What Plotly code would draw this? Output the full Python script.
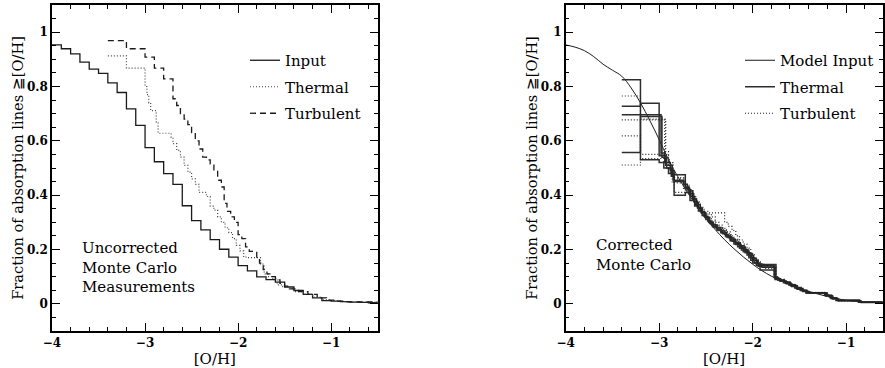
import plotly.graph_objects as go

# ---------------- Left panel: uncorrected Monte Carlo ----------------
input_x = [-4.0, -3.9, -3.8, -3.7, -3.6, -3.5, -3.4, -3.3, -3.2, -3.1,
           -3.0, -2.9, -2.8, -2.7, -2.6, -2.5, -2.4, -2.3, -2.2, -2.1,
           -2.0, -1.9, -1.8, -1.7, -1.6, -1.5, -1.4, -1.3, -1.2, -1.1,
           -1.0, -0.9, -0.8, -0.7, -0.6, -0.5]
input_y = [0.953, 0.939, 0.920, 0.890, 0.864, 0.848, 0.813, 0.778, 0.718, 0.657,
           0.575, 0.523, 0.479, 0.440, 0.361, 0.306, 0.272, 0.236, 0.201, 0.172,
           0.141, 0.121, 0.099, 0.089, 0.080, 0.062, 0.049, 0.035, 0.022, 0.012,
           0.010, 0.008, 0.006, 0.005, 0.004, 0.004]

thermal_x = [-3.4, -3.2, -3.0, -2.98, -2.96, -2.94, -2.88, -2.86, -2.72, -2.70,
             -2.66, -2.62, -2.58, -2.54, -2.50, -2.46, -2.42, -2.34, -2.30, -2.26,
             -2.22, -2.18, -2.14, -2.10, -2.06, -2.02, -1.98, -1.94, -1.90, -1.76,
             -1.72, -1.68, -1.64, -1.58, -1.52, -1.46, -1.40, -1.30, -1.20, -1.10,
             -1.00, -0.90, -0.80, -0.50]
thermal_y = [0.913, 0.868, 0.800, 0.770, 0.740, 0.711, 0.670, 0.628, 0.614, 0.590,
             0.565, 0.540, 0.510, 0.485, 0.460, 0.440, 0.410, 0.395, 0.360, 0.345,
             0.320, 0.300, 0.280, 0.262, 0.240, 0.215, 0.195, 0.172, 0.170, 0.146,
             0.110, 0.100, 0.094, 0.070, 0.063, 0.055, 0.045, 0.036, 0.025, 0.015,
             0.011, 0.008, 0.006, 0.006]

turb_x = [-3.4, -3.2, -3.0, -2.9, -2.8, -2.7, -2.66, -2.62, -2.58, -2.54,
          -2.50, -2.46, -2.42, -2.38, -2.34, -2.30, -2.26, -2.22, -2.18, -2.15,
          -2.12, -2.08, -2.04, -2.00, -1.96, -1.92, -1.88, -1.80, -1.77, -1.73,
          -1.69, -1.65, -1.60, -1.55, -1.50, -1.45, -1.35, -1.25, -1.15, -1.05,
          -0.95, -0.85, -0.50]
turb_y = [0.969, 0.939, 0.908, 0.868, 0.828, 0.755, 0.730, 0.700, 0.680, 0.660,
          0.630, 0.600, 0.570, 0.540, 0.530, 0.515, 0.490, 0.455, 0.430, 0.370,
          0.340, 0.320, 0.300, 0.255, 0.240, 0.210, 0.193, 0.163, 0.150, 0.126,
          0.110, 0.100, 0.088, 0.075, 0.065, 0.055, 0.045, 0.035, 0.022, 0.014,
          0.010, 0.007, 0.007]

# ---------------- Right panel: corrected Monte Carlo ----------------
model_x = [-4.0, -3.9, -3.8, -3.7, -3.6, -3.5, -3.4, -3.3, -3.2, -3.1,
           -3.0, -2.9, -2.8, -2.7, -2.6, -2.5, -2.4, -2.3, -2.2, -2.1,
           -2.0, -1.9, -1.8, -1.7, -1.6, -1.5, -1.4, -1.3, -1.2, -1.1,
           -1.0, -0.9, -0.8, -0.7, -0.6]
model_y = [0.953, 0.945, 0.932, 0.910, 0.882, 0.860, 0.838, 0.795, 0.740, 0.675,
           0.605, 0.530, 0.468, 0.412, 0.360, 0.314, 0.273, 0.236, 0.203, 0.173,
           0.146, 0.122, 0.102, 0.085, 0.070, 0.057, 0.046, 0.036, 0.027, 0.019,
           0.013, 0.009, 0.006, 0.005, 0.004]

thA_x = [-3.4, -3.2, -3.0, -2.95, -2.9, -2.85, -2.74, -2.70, -2.66, -2.62,
         -2.58, -2.54, -2.50, -2.46, -2.42, -2.38, -2.34, -2.30, -2.26, -2.22,
         -2.18, -2.14, -2.10, -2.06, -2.02, -1.98, -1.94, -1.90, -1.76, -1.72,
         -1.66, -1.60, -1.54, -1.48, -1.42, -1.22, -1.16, -1.10, -0.86, -0.60]
thA_y = [0.825, 0.530, 0.520, 0.500, 0.480, 0.455, 0.440, 0.420, 0.395, 0.372,
         0.352, 0.335, 0.318, 0.300, 0.290, 0.280, 0.268, 0.255, 0.243, 0.230,
         0.218, 0.205, 0.192, 0.180, 0.160, 0.150, 0.138, 0.135, 0.095, 0.088,
         0.080, 0.070, 0.060, 0.050, 0.040, 0.030, 0.020, 0.012, 0.006, 0.006]

thB_x = [-3.4, -3.2, -3.0, -2.93, -2.86, -2.72, -2.68, -2.64, -2.60, -2.56,
         -2.52, -2.48, -2.44, -2.40, -2.36, -2.32, -2.28, -2.24, -2.20, -2.16,
         -2.12, -2.08, -2.04, -2.00, -1.96, -1.92, -1.76, -1.70, -1.64, -1.58,
         -1.52, -1.46, -1.40, -1.20, -1.14, -1.08, -0.84, -0.60]
thB_y = [0.727, 0.738, 0.545, 0.510, 0.475, 0.430, 0.415, 0.385, 0.365, 0.340,
         0.322, 0.305, 0.292, 0.280, 0.270, 0.258, 0.246, 0.232, 0.220, 0.210,
         0.198, 0.188, 0.170, 0.150, 0.142, 0.125, 0.090, 0.083, 0.074, 0.064,
         0.054, 0.045, 0.040, 0.028, 0.018, 0.011, 0.005, 0.005]

thC_x = [-3.4, -2.98, -2.94, -2.88, -2.84, -2.72, -2.68, -2.63, -2.59, -2.55,
         -2.51, -2.47, -2.43, -2.38, -2.33, -2.28, -2.23, -2.18, -2.13, -2.08,
         -2.04, -1.99, -1.94, -1.75, -1.71, -1.65, -1.59, -1.53, -1.47, -1.42,
         -1.23, -1.17, -1.10, -0.86, -0.60]
thC_y = [0.696, 0.555, 0.520, 0.490, 0.450, 0.425, 0.405, 0.378, 0.355, 0.336,
         0.318, 0.300, 0.285, 0.272, 0.262, 0.248, 0.236, 0.222, 0.208, 0.196,
         0.178, 0.160, 0.145, 0.092, 0.084, 0.076, 0.066, 0.056, 0.048, 0.041,
         0.032, 0.022, 0.013, 0.006, 0.006]

thD_x = [-3.4, -3.2, -2.97, -2.92, -2.87, -2.84, -2.72, -2.67, -2.62, -2.58,
         -2.54, -2.50, -2.46, -2.42, -2.38, -2.34, -2.29, -2.24, -2.19, -2.14,
         -2.09, -2.05, -2.01, -1.96, -1.92, -1.77, -1.73, -1.67, -1.61, -1.55,
         -1.49, -1.43, -1.21, -1.15, -1.09, -0.85, -0.60]
thD_y = [0.557, 0.690, 0.540, 0.500, 0.470, 0.400, 0.410, 0.380, 0.360, 0.342,
         0.325, 0.310, 0.296, 0.283, 0.272, 0.262, 0.250, 0.238, 0.226, 0.214,
         0.200, 0.186, 0.168, 0.150, 0.140, 0.097, 0.087, 0.078, 0.068, 0.058,
         0.049, 0.040, 0.030, 0.020, 0.012, 0.006, 0.006]

tuA_x = [-3.4, -3.2, -2.93, -2.90, -2.85, -2.72, -2.68, -2.64, -2.60, -2.56,
         -2.52, -2.46, -2.30, -2.26, -2.22, -2.18, -2.14, -2.10, -2.06, -2.02,
         -1.98, -1.94, -1.77, -1.72, -1.66, -1.60, -1.54, -1.48, -1.42, -1.22,
         -1.16, -1.10, -0.86, -0.60]
tuA_y = [0.765, 0.680, 0.560, 0.520, 0.460, 0.440, 0.420, 0.395, 0.375, 0.355,
         0.340, 0.335, 0.300, 0.285, 0.270, 0.250, 0.235, 0.220, 0.205, 0.185,
         0.165, 0.140, 0.100, 0.090, 0.082, 0.072, 0.060, 0.050, 0.042, 0.033,
         0.022, 0.013, 0.006, 0.006]

tuB_x = [-3.4, -2.94, -2.89, -2.84, -2.72, -2.67, -2.63, -2.59, -2.55, -2.51,
         -2.47, -2.43, -2.39, -2.35, -2.31, -2.27, -2.23, -2.19, -2.15, -2.11,
         -2.07, -2.03, -1.99, -1.95, -1.90, -1.75, -1.70, -1.64, -1.58, -1.52,
         -1.46, -1.40, -1.21, -1.15, -1.09, -0.85, -0.60]
tuB_y = [0.677, 0.530, 0.490, 0.410, 0.430, 0.400, 0.375, 0.352, 0.335, 0.318,
         0.302, 0.290, 0.280, 0.275, 0.268, 0.255, 0.242, 0.228, 0.215, 0.202,
         0.190, 0.176, 0.160, 0.148, 0.135, 0.093, 0.086, 0.077, 0.067, 0.057,
         0.048, 0.041, 0.031, 0.021, 0.012, 0.005, 0.005]

tuC_x = [-3.4, -3.2, -2.90, -2.86, -2.74, -2.70, -2.66, -2.62, -2.58, -2.54,
         -2.50, -2.44, -2.40, -2.36, -2.32, -2.28, -2.24, -2.20, -2.16, -2.12,
         -2.08, -2.04, -2.00, -1.96, -1.92, -1.88, -1.76, -1.71, -1.65, -1.59,
         -1.53, -1.47, -1.41, -1.23, -1.17, -1.11, -0.87, -0.60]
tuC_y = [0.618, 0.550, 0.500, 0.445, 0.425, 0.410, 0.390, 0.368, 0.350, 0.335,
         0.330, 0.320, 0.300, 0.290, 0.278, 0.265, 0.250, 0.238, 0.225, 0.210,
         0.196, 0.182, 0.168, 0.155, 0.145, 0.130, 0.092, 0.085, 0.075, 0.065,
         0.055, 0.046, 0.040, 0.030, 0.020, 0.012, 0.006, 0.006]

tuD_x = [-3.4, -3.2, -2.95, -2.88, -2.85, -2.72, -2.68, -2.64, -2.60, -2.56,
         -2.52, -2.48, -2.44, -2.40, -2.36, -2.32, -2.28, -2.24, -2.20, -2.16,
         -2.12, -2.08, -2.04, -2.00, -1.96, -1.92, -1.75, -1.70, -1.64, -1.58,
         -1.52, -1.46, -1.42, -1.22, -1.16, -1.10, -0.86, -0.60]
tuD_y = [0.511, 0.535, 0.520, 0.480, 0.465, 0.435, 0.410, 0.388, 0.362, 0.345,
         0.330, 0.318, 0.305, 0.290, 0.282, 0.270, 0.258, 0.245, 0.232, 0.220,
         0.206, 0.192, 0.175, 0.158, 0.145, 0.138, 0.095, 0.085, 0.076, 0.067,
         0.056, 0.047, 0.041, 0.031, 0.021, 0.013, 0.006, 0.006]

FONT = "DejaVu Serif"
INK = "#1a1a1a"

fig = go.Figure()

# left panel traces
fig.add_trace(go.Scatter(x=input_x, y=input_y, mode="lines", line_shape="hv",
                         line=dict(color=INK, width=1.3), name="Input",
                         legend="legend", legendgroup="a"))
fig.add_trace(go.Scatter(x=thermal_x, y=thermal_y, mode="lines", line_shape="hv",
                         line=dict(color="#444444", width=1.2, dash="1px,2px"),
                         name="Thermal", legend="legend", legendgroup="b"))
fig.add_trace(go.Scatter(x=turb_x, y=turb_y, mode="lines", line_shape="hv",
                         line=dict(color=INK, width=1.3, dash="6px,4px"),
                         name="Turbulent", legend="legend", legendgroup="c"))

# right panel traces
fig.add_trace(go.Scatter(x=model_x, y=model_y, mode="lines", line_shape="spline",
                         line=dict(color=INK, width=1.0), name="Model Input",
                         xaxis="x2", yaxis="y2", legend="legend2", legendgroup="d"))
therm_sets = [(thA_x, thA_y), (thB_x, thB_y), (thC_x, thC_y), (thD_x, thD_y)]
for i, (xs, ys) in enumerate(therm_sets):
    fig.add_trace(go.Scatter(x=xs, y=ys, mode="lines", line_shape="hv",
                             line=dict(color="#2e2e2e", width=1.5), name="Thermal",
                             showlegend=(i == 0), xaxis="x2", yaxis="y2",
                             legend="legend2", legendgroup="e"))
turb_sets = [(tuA_x, tuA_y), (tuB_x, tuB_y), (tuC_x, tuC_y), (tuD_x, tuD_y)]
for i, (xs, ys) in enumerate(turb_sets):
    fig.add_trace(go.Scatter(x=xs, y=ys, mode="lines", line_shape="hv",
                             line=dict(color="#222222", width=1.2, dash="1px,2px"),
                             name="Turbulent", showlegend=(i == 0), xaxis="x2", yaxis="y2",
                             legend="legend2", legendgroup="f"))

W, H = 885, 368
ydom = [(H - 331) / H, (H - 5) / H]

def xaxis_style(dom, rng):
    return dict(domain=dom, range=rng, showline=True, linecolor="black", linewidth=1.5,
                mirror="ticks", ticks="inside", ticklen=8, tickwidth=1.2, tickcolor="black",
                tick0=-4, dtick=1, showgrid=False, zeroline=False, automargin=False,
                minor=dict(ticks="inside", ticklen=4, tickwidth=1, tickcolor="black", dtick=0.2,
                           tick0=-4, showgrid=False),
                tickfont=dict(family=FONT, size=12, color="black", weight="bold"),
                title=dict(text="[O/H]", font=dict(family=FONT, size=15, color="black"),
                           standoff=4))

def yaxis_style(anchor):
    return dict(domain=ydom, range=[-0.1, 1.1], anchor=anchor, showline=True,
                linecolor="black", linewidth=1.5, mirror="ticks", ticks="inside",
                ticklen=8, tickwidth=1.2, tickcolor="black", tick0=0, dtick=0.2,
                showgrid=False, zeroline=False, automargin=False,
                minor=dict(ticks="inside", ticklen=4, tickwidth=1, tickcolor="black", dtick=0.05,
                           tick0=0, showgrid=False),
                tickfont=dict(family=FONT, size=12, color="black", weight="bold"),
                title=dict(text="Fraction of absorption lines \u2267[O/H]",
                           font=dict(family=FONT, size=14.6, color="black"), standoff=0))

legend_common = dict(bgcolor="rgba(0,0,0,0)", font=dict(family=FONT, size=15, color="black"),
                     xanchor="left", yanchor="top", tracegroupgap=4, itemwidth=30,
                     traceorder="grouped")

fig.update_layout(
    width=W, height=H, margin=dict(l=0, r=0, t=0, b=0, autoexpand=False),
    paper_bgcolor="white", plot_bgcolor="white",
    xaxis=xaxis_style([52 / W, 377.7 / W], [-4, -0.5]),
    yaxis=yaxis_style("x"),
    xaxis2=dict(xaxis_style([565.7 / W, 882.5 / W], [-4, -0.61]), anchor="y2"),
    yaxis2=yaxis_style("x2"),
    legend=dict(legend_common, x=245 / W, y=1 - 44 / H),
    legend2=dict(legend_common, x=740 / W, y=1 - 44 / H),
    annotations=[
        dict(text="Uncorrected<br>Monte Carlo<br>Measurements", xref="x domain", yref="y domain",
             x=0.085, y=0.196, xanchor="left", yanchor="middle", align="left", showarrow=False,
             font=dict(family=FONT, size=15, color="black")),
        dict(text="Corrected<br>Monte Carlo", xref="x2 domain", yref="y2 domain",
             x=0.09, y=0.233, xanchor="left", yanchor="middle", align="left", showarrow=False,
             font=dict(family=FONT, size=15, color="black")),
    ],
    showlegend=True,
)

fig.write_html("out.html")
